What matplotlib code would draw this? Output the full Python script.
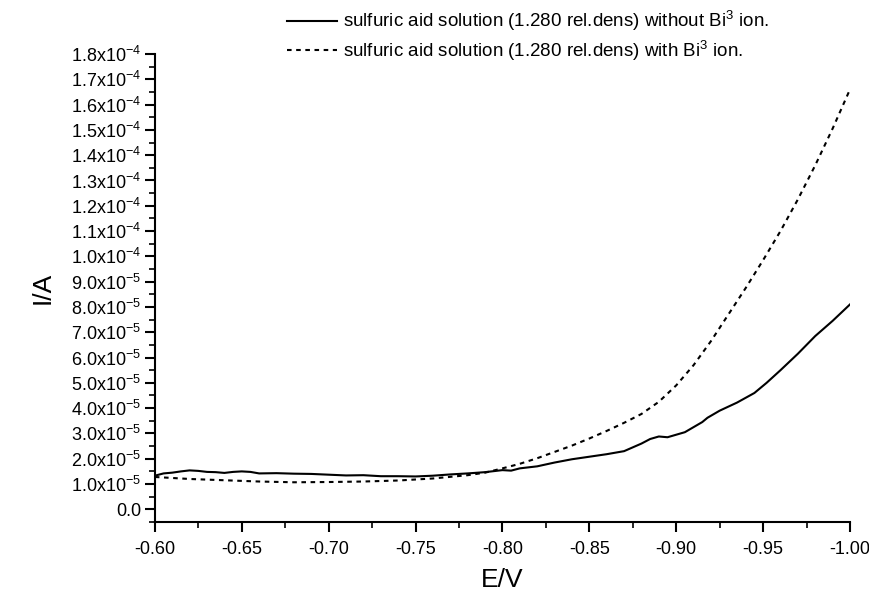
import matplotlib
matplotlib.use("Agg")
import matplotlib.pyplot as plt
from matplotlib.ticker import MultipleLocator, FixedLocator

plt.rcParams['font.family'] = ['Liberation Sans', 'DejaVu Sans']
plt.rcParams['mathtext.fontset'] = 'custom'
plt.rcParams['mathtext.rm'] = 'Liberation Sans'
plt.rcParams['mathtext.it'] = 'Liberation Sans'
plt.rcParams['mathtext.default'] = 'regular'

# Potential (V) and current (units of 1e-5 A)
E_without = [-0.600, -0.605, -0.610, -0.615, -0.620, -0.625, -0.630, -0.635, -0.640, -0.645,
             -0.650, -0.655, -0.660, -0.670, -0.680, -0.690, -0.700, -0.710, -0.720, -0.730,
             -0.740, -0.750, -0.760, -0.770, -0.780, -0.790, -0.800, -0.805, -0.810, -0.820,
             -0.830, -0.840, -0.850, -0.860, -0.870, -0.880, -0.885, -0.890, -0.895, -0.900,
             -0.905, -0.910, -0.915, -0.918, -0.925, -0.935, -0.945, -0.952, -0.960, -0.970,
             -0.980, -0.990, -1.000]
I_without = [1.33, 1.42, 1.45, 1.50, 1.54, 1.52, 1.48, 1.47, 1.44, 1.48,
             1.50, 1.48, 1.42, 1.43, 1.41, 1.40, 1.37, 1.34, 1.35, 1.31,
             1.31, 1.30, 1.33, 1.38, 1.42, 1.47, 1.55, 1.53, 1.62, 1.70,
             1.85, 1.98, 2.08, 2.18, 2.30, 2.60, 2.78, 2.88, 2.85, 2.95,
             3.05, 3.25, 3.45, 3.62, 3.90, 4.22, 4.60, 5.00, 5.50, 6.15,
             6.85, 7.45, 8.10]

E_with = [-0.600, -0.620, -0.640, -0.660, -0.680, -0.700, -0.720, -0.740, -0.760, -0.780,
          -0.790, -0.800, -0.810, -0.820, -0.830, -0.840, -0.850, -0.860, -0.870, -0.880,
          -0.890, -0.900, -0.910, -0.920, -0.930, -0.940, -0.950, -0.960, -0.970, -0.980,
          -0.990, -1.000]
I_with = [1.28, 1.20, 1.15, 1.10, 1.07, 1.08, 1.10, 1.14, 1.22, 1.35,
          1.45, 1.62, 1.80, 2.02, 2.27, 2.52, 2.80, 3.10, 3.42, 3.77,
          4.25, 4.90, 5.70, 6.65, 7.70, 8.75, 9.85, 11.00, 12.25, 13.60,
          15.05, 16.60]

label_without = "sulfuric aid solution (1.280 rel.dens) without Bi$^{3}$ ion."
label_with = "sulfuric aid solution (1.280 rel.dens) with Bi$^{3}$ ion."

x_ticks = [-0.60, -0.65, -0.70, -0.75, -0.80, -0.85, -0.90, -0.95, -1.00]
x_ticklabels = ["-0.60", "-0.65", "-0.70", "-0.75", "-0.80", "-0.85", "-0.90", "-0.95", "-1.00"]
y_ticks = [i * 1e-5 for i in range(19)]
y_ticklabels = ["0.0"] + ["%d.0x10$^{-5}$" % i for i in range(1, 10)] + \
               ["1.%dx10$^{-4}$" % i for i in range(0, 9)]

fig = plt.figure(figsize=(8.7, 5.95), dpi=100)
ax = fig.add_axes([0.178, 0.1227, 0.799, 0.7866])

ax.plot(E_without, [v * 1e-5 for v in I_without], color='black', lw=1.5, ls='-',
        label=label_without)
ax.plot(E_with, [v * 1e-5 for v in I_with], color='black', lw=1.5, ls=(0, (2.2, 2.2)),
        label=label_with)

ax.set_xlim(-0.60, -1.00)
ax.set_ylim(-0.5e-5, 1.8e-4)

ax.xaxis.set_major_locator(FixedLocator(x_ticks))
ax.set_xticklabels(x_ticklabels)
ax.xaxis.set_minor_locator(MultipleLocator(0.025))
ax.yaxis.set_major_locator(FixedLocator(y_ticks))
ax.set_yticklabels(y_ticklabels)
ax.yaxis.set_minor_locator(MultipleLocator(0.5e-5))

for s in ['top', 'right']:
    ax.spines[s].set_visible(False)
for s in ['left', 'bottom']:
    ax.spines[s].set_linewidth(1.5)

ax.tick_params(which='major', direction='out', length=7, width=1.5, labelsize=13, pad=3)
ax.tick_params(which='minor', direction='out', length=4, width=1.2)
ax.tick_params(axis='x', pad=7, labelsize=13)

ax.set_xlabel("E/V", fontsize=19, labelpad=7)
ax.set_ylabel("I/A", fontsize=19, labelpad=12)

leg = ax.legend(loc='upper left', bbox_to_anchor=(0.18, 1.112), frameon=False,
                fontsize=13.5, handlelength=2.65, handletextpad=0.3, labelspacing=0.3,
                borderaxespad=0)

fig.savefig("out.png", dpi=100)
